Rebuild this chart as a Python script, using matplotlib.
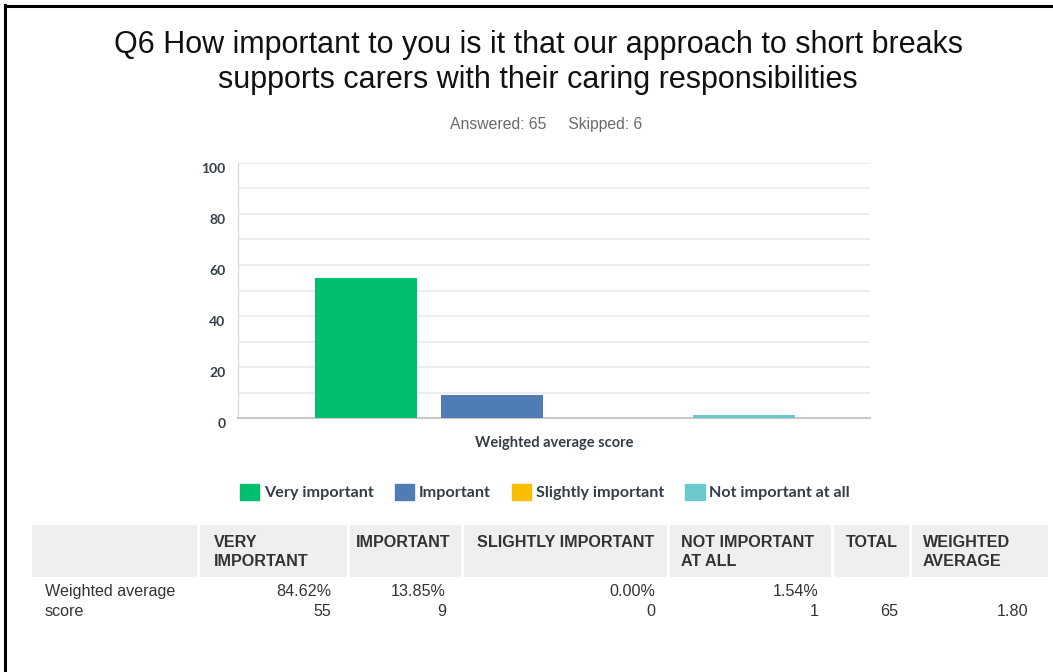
import matplotlib
matplotlib.use("Agg")
import matplotlib.pyplot as plt
import matplotlib.patches as mpatches
import matplotlib.transforms as mtransforms
from matplotlib.lines import Line2D

# data
categories = ["Very important", "Important", "Slightly important", "Not important at all"]
counts = [55, 9, 0, 1]
percents = ["84.62%", "13.85%", "0.00%", "1.54%"]
colors = ["#00bf6f", "#507cb6", "#f9be00", "#6bc8cd"]
headers = ["VERY\nIMPORTANT", "IMPORTANT", "SLIGHTLY IMPORTANT", "NOT IMPORTANT\nAT ALL", "TOTAL", "WEIGHTED\nAVERAGE"]
row_label = "Weighted average\nscore"
total = 65
weighted_avg = "1.80"
answered = 65
skipped = 6

W, H = 1053, 672
fig = plt.figure(figsize=(W / 100, H / 100), dpi=100)
fig.patch.set_facecolor("white")

def fx(px):
    return px / W

def fy(py):
    return 1 - py / H

# border top and left
fig.add_artist(Line2D([fx(5), fx(1053)], [fy(5.5), fy(5.5)], color="black", lw=2.2))
fig.add_artist(Line2D([fx(5), fx(5)], [fy(5), fy(672)], color="black", lw=2.2))

fig.text(fx(538), fy(62.5), "Q6 How important to you is it that our approach to short breaks\nsupports carers with their caring responsibilities",
         ha="center", va="center", fontsize=22, family="Liberation Sans", color="#111111", linespacing=1.2)
fig.text(fx(546), fy(125), f"Answered: {answered}     Skipped: {skipped}", ha="center", va="center",
         fontsize=11.3, family="Liberation Sans", color="#6a6a6a")

# chart
ax = fig.add_axes([fx(238), fy(418), fx(870 - 238), (418 - 163) / H])
x = list(range(len(categories)))
ax.bar(x, counts, width=0.81, color=colors, zorder=3)
ax.set_xlim(-1.02, 4.0)
ax.set_ylim(0, 100)
ax.set_yticks(range(0, 101, 20))
ax.set_yticks(range(10, 100, 10), minor=True)
ax.grid(axis="y", which="both", color="#ececec", lw=1.3, zorder=0)
ax.tick_params(axis="y", which="both", length=0, pad=9, labelsize=10, labelcolor="#333e48")
shift = mtransforms.ScaledTranslation(0, -5 / 100, fig.dpi_scale_trans)
for lab in ax.get_yticklabels():
    lab.set_fontweight("bold")
    lab.set_family("Lato")
    lab.set_transform(lab.get_transform() + shift)
ax.set_xticks([])
for s in ["top", "right"]:
    ax.spines[s].set_visible(False)
ax.spines["left"].set_color("#d8d8d8")
ax.spines["bottom"].set_color("#c8c8c8")
ax.spines["bottom"].set_linewidth(1.5)
ax.set_xlabel("Weighted average score", fontsize=10.5, family="Lato", fontweight="bold", color="#333e48", labelpad=13)

handles = [mpatches.Patch(color=c, label=l) for c, l in zip(colors, categories)]
leg = fig.legend(handles=handles, loc="center", bbox_to_anchor=(fx(545), fy(492)), ncol=4, frameon=False,
                 handlelength=1.2, handleheight=1.2, handletextpad=0.3, columnspacing=1.3,
                 prop={"family": "Lato", "weight": "bold", "size": 11.6})
for t in leg.get_texts():
    t.set_color("#333e48")

# table
fig.add_artist(mpatches.Rectangle((fx(32), fy(577)), fx(1048 - 32), (577 - 525) / H, color="#efefef", lw=0))
for xs in [198, 348, 462, 668, 832, 910]:
    fig.add_artist(Line2D([fx(xs), fx(xs)], [fy(525), fy(577)], color="white", lw=2))
header_x = [214, 356, 477, 681, 846, 923]
for hx, h in zip(header_x, headers):
    fig.text(fx(hx), fy(535), h, ha="left", va="top", fontsize=11.6, fontweight="bold",
             family="Liberation Sans", color="#333333", linespacing=1.35)
fig.text(fx(45), fy(601.5), row_label, ha="left", va="center", fontsize=11.6, family="Liberation Sans",
         color="#333333", linespacing=1.4)
value_x = [331, 446, 655, 819]
for vx, p, c in zip(value_x, percents, counts):
    fig.text(fx(vx), fy(601.5), f"{p}\n{c}", ha="right", va="center", fontsize=11.6, family="Liberation Sans",
             color="#333333", linespacing=1.4)
fig.text(fx(898), fy(611), str(total), ha="right", va="center", fontsize=11.6, family="Liberation Sans", color="#333333")
fig.text(fx(1028), fy(611), weighted_avg, ha="right", va="center", fontsize=11.6, family="Liberation Sans", color="#333333")

fig.savefig("out.png", dpi=100)
